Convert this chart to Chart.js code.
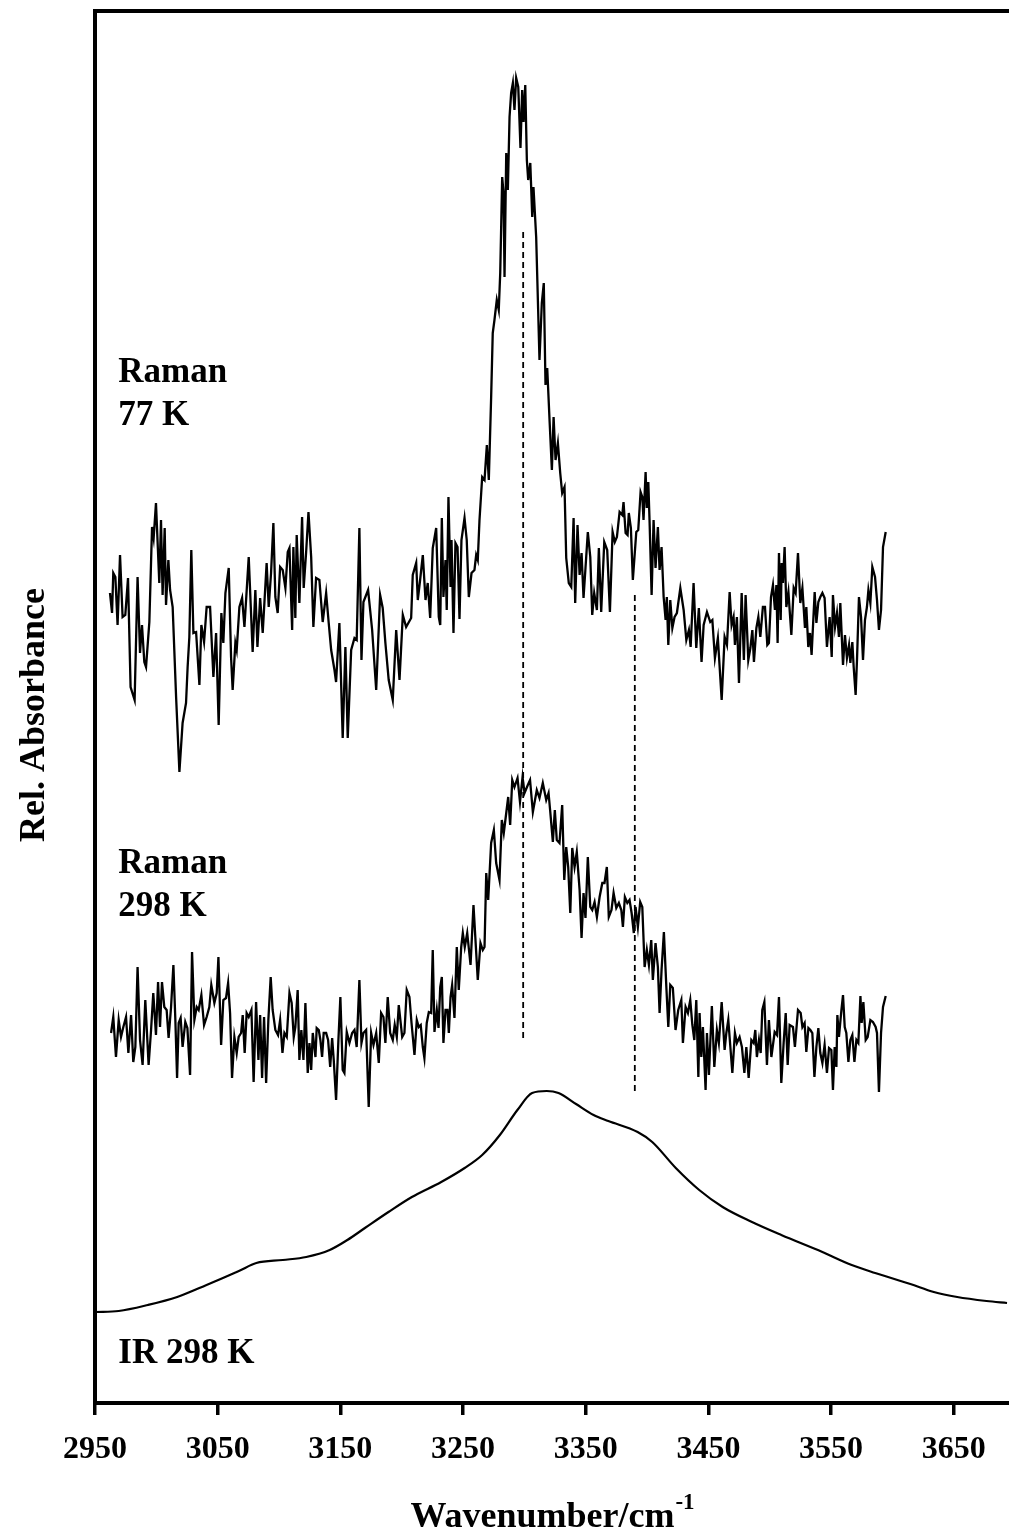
<!DOCTYPE html>
<html>
<head>
<meta charset="utf-8">
<title>Rel. Absorbance vs Wavenumber</title>
<script src="https://cdn.jsdelivr.net/npm/chart.js@4.4.1/dist/chart.umd.min.js"></script>
<style>
  html, body { margin: 0; padding: 0; background: #fff; }
  #wrap { width: 1009px; height: 1537px; }
</style>
</head>
<body>
<div id="wrap"><canvas id="spectraChart" width="1009" height="1537"></canvas></div>
<script>
// tick labels of the wavenumber axis
const wnTicks = [2950, 3050, 3150, 3250, 3350, 3450, 3550, 3650];

// Raman spectrum at 77 K (wavenumber / relative absorbance, arbitrary offset)
const raman77Wn = [2962.2, 2963.9, 2964.9, 2966.6, 2968.4, 2970.4, 2972.5, 2974.7, 2976.9, 2979.0, 2982.3, 2984.7, 2986.7, 2988.3, 2990.2, 2991.6, 2994.3, 2996.5, 2997.8, 2999.7,
  3002.4, 3003.8, 3005.1, 3006.8, 3007.9, 3009.8, 3011.2, 3013.3, 3016.1, 3018.8, 3021.4, 3024.2, 3025.5, 3026.9, 3028.5, 3030.2, 3032.4, 3035.1, 3036.7, 3038.9,
  3041.0, 3043.8, 3046.5, 3048.7, 3050.8, 3053.0, 3054.6, 3056.3, 3059.0, 3060.9, 3062.2, 3064.4, 3065.5, 3067.7, 3069.9, 3071.8, 3075.3, 3078.5, 3080.7, 3082.4,
  3084.6, 3086.7, 3089.9, 3091.6, 3093.5, 3095.4, 3097.0, 3098.9, 3100.9, 3103.0, 3105.2, 3107.1, 3108.5, 3110.7, 3111.7, 3113.3, 3114.4, 3116.6, 3118.8, 3120.1,
  3122.1, 3124.0, 3126.2, 3128.0, 3130.2, 3132.9, 3135.6, 3138.4, 3140.5, 3142.5, 3145.2, 3146.5, 3149.2, 3151.9, 3154.1, 3156.0, 3158.8, 3161.5, 3163.3, 3165.5,
  3167.2, 3168.8, 3172.6, 3175.9, 3179.2, 3182.4, 3184.5, 3186.7, 3189.4, 3192.7, 3195.5, 3198.2, 3200.9, 3203.6, 3207.7, 3209.0, 3211.8, 3213.1, 3215.0, 3217.2,
  3219.4, 3221.2, 3223.2, 3225.3, 3228.1, 3230.2, 3231.4, 3232.7, 3234.0, 3235.7, 3236.7, 3238.1, 3239.8, 3240.6, 3242.2, 3243.8, 3245.5, 3247.1, 3248.7, 3251.2,
  3253.0, 3254.7, 3256.9, 3259.3, 3260.7, 3262.0, 3263.4, 3265.6, 3267.5, 3269.4, 3271.0, 3272.9, 3274.2, 3275.6, 3277.5, 3279.1, 3280.3, 3281.9, 3283.0, 3283.8,
  3285.2, 3286.5, 3287.9, 3289.2, 3290.6, 3291.9, 3293.3, 3295.0, 3296.8, 3298.2, 3299.3, 3300.7, 3302.0, 3303.1, 3304.8, 3306.4, 3307.4, 3309.6, 3312.3, 3314.2,
  3315.8, 3317.2, 3318.6, 3320.5, 3322.4, 3323.8, 3325.4, 3327.3, 3329.2, 3330.8, 3332.7, 3334.1, 3336.2, 3338.2, 3340.1, 3341.4, 3343.3, 3345.0, 3346.6, 3348.2,
  3349.8, 3351.7, 3353.7, 3355.3, 3356.9, 3359.1, 3360.7, 3362.6, 3365.1, 3367.5, 3369.7, 3371.9, 3373.7, 3375.4, 3377.6, 3379.8, 3380.8, 3382.5, 3384.1, 3385.1,
  3386.8, 3388.4, 3391.2, 3392.8, 3394.7, 3396.1, 3397.1, 3398.8, 3399.8, 3401.0, 3402.0, 3403.7, 3405.3, 3406.9, 3408.8, 3410.2, 3411.8, 3413.5, 3415.1, 3416.1,
  3417.3, 3418.9, 3420.6, 3422.4, 3424.3, 3427.1, 3429.8, 3432.0, 3434.1, 3435.5, 3437.9, 3440.1, 3442.2, 3444.4, 3446.1, 3448.8, 3451.5, 3453.2, 3455.3, 3457.7,
  3460.8, 3463.2, 3465.1, 3467.3, 3468.9, 3470.5, 3471.6, 3473.2, 3474.9, 3477.1, 3478.9, 3480.3, 3482.5, 3484.2, 3485.8, 3487.1, 3489.1, 3490.7, 3492.3, 3494.4,
  3496.1, 3498.0, 3499.3, 3501.0, 3502.6, 3504.2, 3505.4, 3506.4, 3507.5, 3508.9, 3509.7, 3510.7, 3512.1, 3513.5, 3515.2, 3517.6, 3519.5, 3521.1, 3523.0, 3524.9,
  3526.6, 3528.7, 3529.8, 3531.4, 3532.8, 3534.1, 3536.6, 3538.0, 3539.6, 3541.2, 3542.9, 3544.7, 3546.6, 3548.8, 3550.5, 3551.5, 3553.2, 3554.8, 3556.4, 3557.5,
  3559.7, 3561.3, 3562.9, 3564.6, 3565.7, 3567.3, 3568.4, 3570.0, 3571.1, 3572.7, 3574.4, 3576.0, 3577.6, 3579.2, 3580.4, 3582.0, 3583.6, 3585.8, 3587.4, 3589.0,
  3590.7, 3592.3, 3594.5];
const raman77Abs = [80.9, 78.9, 82.9, 82.5, 77.7, 84.7, 78.5, 78.7, 82.4, 71.5, 70.2, 82.5, 74.9, 77.7, 74.0, 73.5, 78.0, 87.5, 86.4, 89.9,
  81.9, 88.2, 80.7, 87.4, 79.7, 84.2, 81.2, 79.5, 70.5, 63.0, 67.9, 69.9, 73.5, 76.5, 85.2, 76.9, 77.0, 71.7, 77.7, 76.0,
  79.5, 79.5, 72.5, 76.9, 67.7, 78.9, 75.9, 80.9, 83.4, 74.5, 71.2, 75.9, 75.2, 79.5, 80.4, 77.5, 84.5, 75.0, 81.2, 75.5,
  80.4, 76.9, 83.9, 79.5, 82.9, 87.9, 80.5, 78.9, 83.5, 83.2, 81.4, 85.0, 85.4, 77.2, 85.5, 78.4, 86.7, 79.9, 88.5, 81.4,
  85.0, 89.0, 84.5, 77.5, 82.4, 82.2, 78.0, 80.9, 77.9, 75.2, 73.2, 72.0, 77.9, 66.4, 75.5, 66.4, 75.2, 76.4, 76.2, 87.4,
  74.2, 80.0, 81.2, 77.2, 71.2, 80.7, 79.4, 75.9, 72.2, 70.2, 77.2, 72.2, 78.7, 77.5, 78.4, 82.7, 83.9, 80.2, 82.2, 84.7,
  80.2, 81.9, 78.4, 85.4, 87.4, 78.5, 77.7, 88.4, 80.5, 84.2, 79.2, 90.5, 81.5, 86.2, 76.9, 85.9, 85.5, 78.3, 86.2, 88.4,
  86.2, 80.5, 82.9, 83.2, 84.7, 84.2, 88.2, 92.5, 92.2, 95.7, 92.2, 100.5, 106.9, 108.2, 110.2, 109.2, 112.9, 122.5, 120.9, 112.5,
  124.9, 121.2, 128.5, 130.9, 131.9, 129.2, 132.4, 131.5, 125.4, 131.2, 128.0, 131.7, 124.2, 122.2, 123.9, 118.5, 121.5, 116.5, 104.2, 109.9,
  111.9, 101.7, 103.4, 98.2, 93.2, 98.5, 94.2, 95.9, 92.9, 90.9, 91.5, 84.4, 81.9, 81.5, 88.4, 79.9, 87.7, 82.7, 84.9, 80.4,
  83.4, 87.0, 84.5, 78.7, 80.9, 79.2, 85.4, 79.0, 86.0, 85.2, 79.0, 87.0, 86.0, 86.5, 89.0, 88.7, 90.0, 86.9, 86.7, 88.9,
  87.4, 82.2, 87.0, 87.2, 91.0, 90.5, 88.2, 93.0, 89.4, 92.0, 88.2, 80.7, 88.2, 83.4, 87.5, 83.2, 85.5, 80.5, 78.2, 80.5,
  75.7, 80.2, 77.4, 78.5, 78.9, 81.4, 79.2, 76.2, 77.2, 75.5, 81.9, 75.4, 79.4, 74.0, 77.7, 79.0, 78.0, 78.2, 74.4, 76.4,
  70.2, 76.5, 75.7, 81.0, 77.7, 78.5, 75.7, 78.5, 71.9, 80.9, 74.2, 80.7, 74.2, 75.4, 77.2, 74.0, 77.4, 78.5, 76.5, 79.5,
  79.5, 75.7, 75.9, 80.5, 81.7, 79.2, 81.7, 75.9, 84.9, 78.2, 83.9, 81.9, 85.5, 79.5, 81.0, 76.7, 81.4, 80.9, 84.9, 79.9,
  81.4, 77.4, 79.5, 75.5, 76.9, 74.7, 81.0, 77.9, 80.0, 80.5, 80.9, 80.4, 75.5, 78.5, 74.5, 80.7, 77.5, 78.9, 76.5, 79.9,
  73.7, 76.7, 74.4, 75.7, 73.9, 76.0, 73.5, 70.7, 74.2, 80.5, 78.5, 74.2, 78.2, 79.5, 81.2, 79.9, 83.5, 82.5, 80.2, 77.2,
  79.2, 85.5, 87.0];

// Raman spectrum at 298 K
const raman298Wn = [2963.1, 2964.9, 2967.1, 2969.3, 2971.2, 2973.1, 2975.3, 2977.2, 2979.4, 2981.2, 2982.9, 2984.7, 2986.7, 2988.8, 2991.0, 2993.7, 2995.7, 2997.5, 2999.7, 3001.4,
  3003.0, 3004.6, 3006.5, 3008.4, 3010.0, 3012.0, 3013.9, 3015.5, 3016.9, 3018.2, 3019.8, 3021.4, 3023.6, 3025.3, 3027.5, 3029.1, 3031.0, 3032.9, 3034.5, 3036.7,
  3038.9, 3041.0, 3043.2, 3044.8, 3047.3, 3049.2, 3050.6, 3052.8, 3054.6, 3056.8, 3058.5, 3060.1, 3061.7, 3063.6, 3065.5, 3067.1, 3069.1, 3070.4, 3072.0, 3073.6,
  3075.3, 3077.5, 3079.3, 3081.3, 3083.2, 3084.6, 3086.2, 3087.8, 3089.5, 3091.3, 3093.2, 3094.8, 3097.0, 3099.2, 3100.9, 3102.8, 3104.4, 3106.3, 3108.5, 3110.3,
  3112.0, 3113.3, 3115.2, 3116.6, 3118.2, 3119.9, 3121.5, 3123.4, 3124.8, 3126.2, 3127.5, 3129.7, 3130.7, 3132.4, 3133.7, 3135.1, 3136.4, 3138.4, 3140.0, 3141.7,
  3143.3, 3144.6, 3146.5, 3148.4, 3150.0, 3151.9, 3153.3, 3155.2, 3157.4, 3159.6, 3161.5, 3163.3, 3165.5, 3167.2, 3168.8, 3171.0, 3173.1, 3175.1, 3177.0, 3179.2,
  3181.3, 3183.2, 3185.1, 3186.7, 3188.6, 3190.6, 3192.7, 3194.3, 3196.0, 3197.6, 3200.4, 3202.2, 3204.1, 3206.3, 3208.0, 3210.4, 3212.3, 3213.9, 3215.5, 3217.2,
  3218.5, 3220.4, 3222.1, 3224.0, 3225.3, 3226.7, 3228.6, 3230.0, 3231.4, 3232.7, 3234.0, 3235.7, 3237.3, 3238.4, 3239.8, 3241.1, 3243.0, 3244.9, 3246.5, 3248.5,
  3249.8, 3251.4, 3253.4, 3256.1, 3258.5, 3262.0, 3264.2, 3266.1, 3267.5, 3268.9, 3270.5, 3272.9, 3275.1, 3277.0, 3279.7, 3281.6, 3283.2, 3285.2, 3286.8, 3288.4,
  3290.1, 3291.9, 3294.4, 3296.4, 3298.5, 3300.1, 3302.8, 3304.6, 3306.9, 3310.1, 3312.3, 3315.0, 3317.8, 3319.7, 3321.1, 3323.2, 3324.8, 3326.4, 3328.6, 3330.8,
  3332.5, 3334.1, 3335.7, 3337.4, 3339.0, 3340.9, 3342.7, 3345.0, 3346.6, 3348.2, 3349.8, 3351.7, 3353.7, 3355.3, 3357.2, 3359.1, 3361.3, 3363.5, 3365.3, 3367.2,
  3368.8, 3371.0, 3372.7, 3374.9, 3377.0, 3379.0, 3380.3, 3381.9, 3383.9, 3385.7, 3387.4, 3389.2, 3390.6, 3392.5, 3394.4, 3396.1, 3398.0, 3399.8, 3401.5, 3403.4,
  3404.7, 3406.9, 3408.8, 3410.2, 3411.8, 3413.7, 3415.7, 3417.3, 3418.9, 3421.0, 3423.2, 3425.4, 3427.9, 3429.2, 3431.4, 3433.3, 3435.2, 3436.9, 3438.5, 3440.1,
  3441.8, 3442.8, 3444.2, 3445.5, 3447.7, 3448.8, 3450.4, 3452.8, 3454.8, 3456.9, 3458.5, 3460.8, 3463.2, 3464.6, 3466.2, 3469.5, 3471.6, 3473.2, 3475.4, 3477.3,
  3479.3, 3480.9, 3482.8, 3485.0, 3486.9, 3488.2, 3489.5, 3491.2, 3492.6, 3493.9, 3495.6, 3497.7, 3499.3, 3501.3, 3504.0, 3505.9, 3507.5, 3509.4, 3511.3, 3513.0,
  3514.6, 3516.2, 3518.9, 3520.5, 3523.0, 3525.2, 3526.6, 3528.4, 3529.8, 3531.5, 3533.1, 3534.7, 3536.4, 3538.0, 3539.6, 3541.2, 3542.9, 3544.7, 3546.6, 3548.3,
  3550.2, 3551.5, 3552.9, 3554.3, 3555.1, 3556.4, 3558.4, 3559.7, 3561.1, 3562.4, 3564.1, 3565.7, 3567.3, 3569.0, 3570.6, 3572.2, 3573.9, 3574.9, 3576.3, 3578.2,
  3579.8, 3582.0, 3584.1, 3586.3, 3587.4, 3589.0, 3590.7, 3592.3, 3594.5];
const raman298Abs = [36.9, 38.5, 34.5, 38.2, 36.5, 37.5, 38.5, 34.9, 38.7, 34.0, 35.5, 43.5, 36.2, 33.7, 40.2, 33.7, 37.2, 40.9, 36.7, 42.0,
  37.5, 42.0, 39.5, 39.2, 36.4, 39.5, 43.7, 38.2, 32.4, 37.9, 38.4, 35.5, 38.0, 37.4, 32.7, 45.0, 38.2, 39.5, 39.2, 40.7,
  37.7, 38.5, 39.5, 41.7, 39.9, 40.9, 44.5, 35.7, 40.2, 40.4, 41.9, 38.9, 32.4, 36.5, 34.9, 36.5, 36.9, 38.7, 34.9, 38.9,
  38.5, 39.2, 32.0, 40.0, 34.2, 38.7, 32.4, 38.5, 31.9, 38.2, 42.5, 39.2, 37.2, 36.7, 38.2, 34.9, 36.9, 36.5, 40.9, 39.9,
  36.5, 37.5, 41.2, 34.2, 37.2, 34.2, 39.9, 32.9, 35.9, 33.2, 36.9, 34.5, 37.4, 37.2, 36.2, 34.5, 36.9, 36.9, 36.2, 33.5,
  36.4, 34.2, 30.2, 36.2, 40.5, 33.2, 32.9, 37.0, 35.9, 36.9, 37.2, 35.5, 42.2, 35.9, 36.9, 37.2, 29.5, 36.9, 35.7, 36.9,
  33.9, 38.9, 38.5, 35.9, 40.5, 36.9, 36.2, 37.7, 36.5, 39.7, 36.5, 36.9, 41.2, 40.5, 37.9, 34.7, 38.2, 37.5, 37.7, 35.5,
  34.4, 37.9, 39.0, 38.9, 45.2, 37.0, 39.2, 37.4, 41.5, 42.5, 35.9, 39.2, 39.2, 36.9, 40.5, 41.7, 38.4, 45.5, 41.2, 45.5,
  46.9, 45.5, 46.9, 43.7, 49.7, 42.2, 45.9, 45.2, 45.5, 52.9, 50.2, 55.9, 57.2, 53.9, 52.2, 58.2, 56.9, 58.9, 60.5, 57.7,
  62.2, 61.5, 62.4, 60.0, 62.5, 60.9, 61.7, 62.2, 59.0, 61.2, 60.4, 61.9, 60.2, 60.9, 59.0, 56.0, 59.2, 56.2, 55.9, 59.7,
  52.2, 55.5, 53.5, 48.9, 55.4, 53.5, 55.0, 51.2, 46.4, 50.9, 48.4, 54.5, 49.5, 49.2, 50.0, 48.5, 50.5, 51.9, 51.9, 53.5,
  48.5, 49.2, 50.9, 49.4, 49.9, 49.2, 47.5, 50.5, 49.9, 50.2, 48.9, 46.9, 49.5, 47.5, 50.0, 49.5, 43.5, 45.2, 43.7, 46.2,
  42.2, 45.9, 43.5, 38.9, 43.2, 47.0, 41.5, 37.5, 41.7, 41.4, 37.2, 39.2, 40.2, 35.9, 39.5, 38.9, 40.2, 37.7, 36.2, 40.2,
  32.5, 38.9, 34.5, 37.5, 31.2, 36.9, 32.7, 39.6, 33.5, 37.2, 35.9, 40.0, 35.2, 36.9, 38.2, 32.9, 36.9, 35.9, 36.5, 35.5,
  32.9, 35.5, 32.4, 36.2, 35.9, 37.2, 34.5, 36.2, 34.9, 39.2, 40.0, 33.7, 38.2, 34.5, 37.0, 36.7, 40.5, 31.9, 35.9, 38.9,
  33.7, 37.7, 37.5, 35.5, 39.2, 38.9, 37.5, 37.9, 35.0, 37.4, 37.2, 36.9, 32.5, 35.5, 37.4, 34.9, 33.9, 35.7, 32.9, 35.4,
  35.2, 31.2, 35.5, 33.5, 38.7, 36.5, 39.2, 40.7, 37.5, 36.9, 34.0, 36.2, 36.7, 34.0, 36.2, 35.9, 40.6, 37.9, 40.0, 36.2,
  36.5, 38.2, 38.0, 37.5, 36.9, 31.0, 36.9, 39.5, 40.6];

// IR spectrum at 298 K
const irWn = [2950.2, 2969.3, 2993.1, 3017.0, 3040.9, 3067.3, 3081.5, 3103.1, 3122.2, 3141.3, 3155.7, 3170.0, 3189.2, 3208.3, 3232.2, 3251.3, 3265.6, 3280.0, 3294.3, 3306.3,
  3318.2, 3327.8, 3342.1, 3356.4, 3368.4, 3392.3, 3404.2, 3423.4, 3442.5, 3461.6, 3485.5, 3509.4, 3542.9, 3566.8, 3585.9, 3614.6, 3633.7, 3652.8, 3676.7, 3693.4];
const irAbs = [9.0, 9.1, 9.7, 10.5, 11.7, 13.1, 13.9, 14.2, 14.5, 15.2, 16.2, 17.4, 19.0, 20.5, 22.0, 23.4, 24.7, 26.7, 29.2, 30.9,
  31.1, 30.9, 29.8, 28.7, 28.1, 27.0, 26.0, 23.4, 21.2, 19.5, 18.0, 16.7, 15.0, 13.7, 12.9, 11.8, 11.0, 10.5, 10.1, 9.9];

// dashed marker lines (band positions)
const markerWn = [3299, 3390];
const markerTop = [117.0, 80.7];
const markerBottom = [36.4, 31.0];

// curve labels
const labelText = ['Raman', '77 K', 'Raman', '298 K', 'IR 298 K'];
const labelWn = [2969, 2969, 2969, 2969, 2969];
const labelAbs = [102.0, 97.7, 52.9, 48.6, 3.9];

const serif = '"Liberation Serif", "Times New Roman", serif';

function toPoints(xs, ys) {
  return xs.map(function (x, i) { return { x: x, y: ys[i] }; });
}

document.addEventListener('DOMContentLoaded', function () {
  const ctx = document.getElementById('spectraChart');

  const datasets = [
    { data: toPoints(raman77Wn, raman77Abs), borderWidth: 2.3, tension: 0 },
    { data: toPoints(raman298Wn, raman298Abs), borderWidth: 2.3, tension: 0 },
    { data: toPoints(irWn, irAbs), borderWidth: 2.2, cubicInterpolationMode: 'monotone' }
  ];
  markerWn.forEach(function (wn, i) {
    datasets.push({
      data: [{ x: wn, y: markerTop[i] }, { x: wn, y: markerBottom[i] }],
      borderWidth: 1.8,
      borderDash: [6, 4],
      tension: 0
    });
  });
  datasets.forEach(function (d) {
    d.borderColor = '#000';
    d.pointRadius = 0;
    d.fill = false;
  });

  // frame top line, curve labels and axis titles
  const decor = {
    id: 'decor',
    afterDraw: function (chart) {
      const c = chart.ctx;
      const area = chart.chartArea;
      const xs = chart.scales.x;
      const ys = chart.scales.y;
      c.save();
      c.strokeStyle = '#000';
      c.lineWidth = 4;
      c.beginPath();
      c.moveTo(area.left - 2, area.top);
      c.lineTo(area.right, area.top);
      c.stroke();

      c.fillStyle = '#000';
      c.textBaseline = 'alphabetic';
      c.textAlign = 'left';
      c.font = 'bold 35px ' + serif;
      labelText.forEach(function (t, i) {
        c.fillText(t, xs.getPixelForValue(labelWn[i]), ys.getPixelForValue(labelAbs[i]));
      });

      // x title with superscript
      const main = 'Wavenumber/cm';
      const sup = '-1';
      c.font = 'bold 36px ' + serif;
      const wMain = c.measureText(main).width;
      c.font = 'bold 23px ' + serif;
      const wSup = c.measureText(sup).width;
      const x0 = (area.left + area.right) / 2 - (wMain + wSup) / 2;
      c.font = 'bold 36px ' + serif;
      c.fillText(main, x0, 1527);
      c.font = 'bold 23px ' + serif;
      c.fillText(sup, x0 + wMain + 1, 1509);

      // y title
      c.translate(44, 715);
      c.rotate(-Math.PI / 2);
      c.textAlign = 'center';
      c.font = 'bold 36px ' + serif;
      c.fillText('Rel. Absorbance', 0, 0);
      c.restore();
    }
  };

  new Chart(ctx, {
    type: 'line',
    data: { datasets: datasets },
    options: {
      responsive: false,
      animation: false,
      events: [],
      layout: { padding: { top: 11, right: 0, bottom: 0, left: 0 } },
      plugins: {
        legend: { display: false },
        tooltip: { enabled: false }
      },
      scales: {
        x: {
          type: 'linear',
          min: 2950,
          max: 3695,
          afterBuildTicks: function (scale) {
            scale.ticks = wnTicks.map(function (v) { return { value: v }; });
          },
          afterFit: function (scale) { scale.height = 134; },
          ticks: {
            color: '#000',
            padding: 16,
            maxRotation: 0,
            autoSkip: false,
            font: { family: serif, size: 32, weight: 'bold' },
            callback: function (v) { return String(v); }
          },
          grid: {
            drawOnChartArea: false,
            drawTicks: true,
            tickLength: 12,
            lineWidth: 3.5,
            color: '#000'
          },
          border: { display: true, color: '#000', width: 4 }
        },
        y: {
          type: 'linear',
          min: -0.1,
          max: 139.1,
          afterFit: function (scale) { scale.width = 95; },
          ticks: { display: false },
          grid: { display: false },
          border: { display: true, color: '#000', width: 4 }
        }
      }
    },
    plugins: [decor]
  });
});
</script>
</body>
</html>
